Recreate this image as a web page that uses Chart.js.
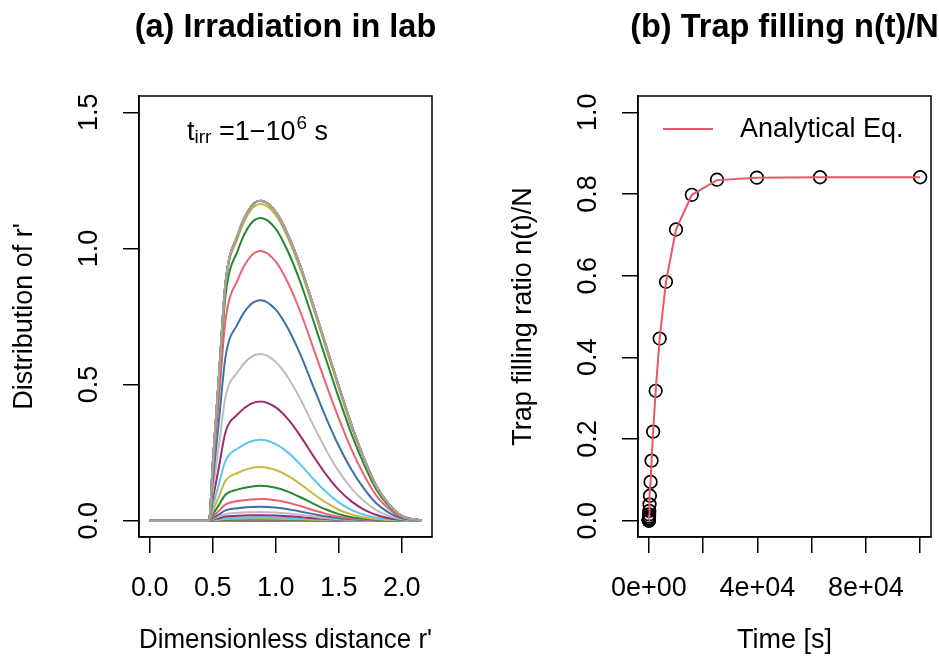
<!DOCTYPE html>
<html>
<head>
<meta charset="utf-8">
<script src="https://cdn.jsdelivr.net/npm/chart.js@4.4.1/dist/chart.umd.min.js"></script>
<style>
  html, body { margin: 0; padding: 0; background: #fff; overflow: hidden; }
  #wrap { position: relative; width: 939px; height: 671px; overflow: hidden; background: #fff; }
  canvas { position: absolute; top: 0; }
  #leftCanvas { left: 0; }
  #rightCanvas { left: 499px; }
</style>
</head>
<body>
<div id="wrap">
  <canvas id="leftCanvas" width="571" height="671"></canvas>
  <canvas id="rightCanvas" width="571" height="671"></canvas>
</div>
<script>
// ---- (a) distribution of r' for irradiation times 1 .. 1e6 s (log steps of 0.2)
const rGrid = [0, 0.47, 0.5, 0.55, 0.6, 0.7, 0.8, 0.88, 1.0, 1.1, 1.2, 1.3, 1.4, 1.5, 1.6, 1.7, 1.8, 1.9, 2.0, 2.16];

const c00 = [0, 0, 0, 0.0001, 0.0001, 0.0002, 0.0002, 0.0002, 0.0002, 0.0002, 0.0001, 0.0001, 0.0001, 0, 0, 0, 0, 0, 0, 0];
const c01 = [0, 0, 0, 0.0001, 0.0002, 0.0003, 0.0003, 0.0003, 0.0003, 0.0003, 0.0002, 0.0001, 0.0001, 0, 0, 0, 0, 0, 0, 0];
const c02 = [0, 0, 0.0001, 0.0002, 0.0004, 0.0004, 0.0005, 0.0005, 0.0005, 0.0004, 0.0003, 0.0002, 0.0001, 0.0001, 0, 0, 0, 0, 0, 0];
const c03 = [0, 0, 0.0001, 0.0004, 0.0006, 0.0007, 0.0008, 0.0008, 0.0008, 0.0007, 0.0005, 0.0004, 0.0002, 0.0001, 0, 0, 0, 0, 0, 0];
const c04 = [0, 0, 0.0002, 0.0006, 0.0009, 0.0011, 0.0012, 0.0012, 0.0011, 0.001, 0.0008, 0.0006, 0.0003, 0.0002, 0.0001, 0, 0, 0, 0, 0];
const c05 = [0, 0, 0.0003, 0.0009, 0.0014, 0.0017, 0.0019, 0.0019, 0.0018, 0.0016, 0.0012, 0.0009, 0.0006, 0.0003, 0.0002, 0, 0, 0, 0, 0];
const c06 = [0, 0, 0.0006, 0.0014, 0.0023, 0.0028, 0.003, 0.0031, 0.0029, 0.0025, 0.002, 0.0014, 0.0009, 0.0005, 0.0002, 0.0001, 0, 0, 0, 0];
const c07 = [0, 0, 0.0009, 0.0023, 0.0036, 0.0044, 0.0048, 0.0049, 0.0046, 0.004, 0.0032, 0.0023, 0.0014, 0.0008, 0.0004, 0.0002, 0, 0, 0, 0];
const c08 = [0, 0, 0.0014, 0.0036, 0.0058, 0.007, 0.0076, 0.0078, 0.0073, 0.0064, 0.0051, 0.0036, 0.0023, 0.0012, 0.0006, 0.0003, 0, 0, 0, 0];
const c09 = [0, 0, 0.002, 0.006, 0.009, 0.011, 0.012, 0.0125, 0.012, 0.010, 0.008, 0.006, 0.004, 0.002, 0.001, 0, 0, 0, 0, 0];
const c10 = [0, 0, 0.004, 0.009, 0.015, 0.018, 0.0196, 0.020, 0.019, 0.016, 0.013, 0.009, 0.006, 0.003, 0.002, 0.001, 0, 0, 0, 0];
const c11 = [0, 0, 0.006, 0.015, 0.024, 0.029, 0.031, 0.032, 0.030, 0.026, 0.021, 0.015, 0.009, 0.005, 0.003, 0.001, 0, 0, 0, 0];
const c12 = [0, 0, 0.009, 0.023, 0.038, 0.046, 0.050, 0.051, 0.048, 0.042, 0.033, 0.024, 0.015, 0.009, 0.005, 0.002, 0.001, 0, 0, 0];
const c13 = [0, 0, 0.014, 0.037, 0.059, 0.072, 0.078, 0.080, 0.075, 0.066, 0.053, 0.038, 0.025, 0.014, 0.008, 0.004, 0.002, 0.001, 0, 0];
const c14 = [0, 0, 0.023, 0.059, 0.095, 0.115, 0.125, 0.128, 0.121, 0.106, 0.085, 0.062, 0.041, 0.024, 0.013, 0.007, 0.003, 0.001, 0, 0];
const c15 = [0, 0, 0.035, 0.091, 0.146, 0.176, 0.193, 0.197, 0.186, 0.164, 0.133, 0.098, 0.066, 0.040, 0.023, 0.012, 0.006, 0.002, 0.001, 0];
const c16 = [0, 0, 0.053, 0.137, 0.220, 0.266, 0.291, 0.297, 0.281, 0.249, 0.204, 0.152, 0.105, 0.067, 0.040, 0.022, 0.011, 0.005, 0.001, 0];
const c17 = [0, 0, 0.079, 0.201, 0.324, 0.392, 0.429, 0.438, 0.416, 0.371, 0.308, 0.236, 0.169, 0.113, 0.071, 0.041, 0.021, 0.009, 0.003, 0];
const c18 = [0, 0, 0.110, 0.282, 0.453, 0.548, 0.600, 0.612, 0.583, 0.524, 0.442, 0.348, 0.259, 0.181, 0.119, 0.072, 0.038, 0.017, 0.005, 0];
const c19 = [0, 0, 0.146, 0.373, 0.599, 0.725, 0.794, 0.810, 0.775, 0.703, 0.605, 0.490, 0.377, 0.275, 0.188, 0.118, 0.063, 0.029, 0.009, 0];
const c20 = [0, 0, 0.178, 0.456, 0.733, 0.887, 0.971, 0.991, 0.952, 0.871, 0.761, 0.631, 0.500, 0.376, 0.263, 0.168, 0.091, 0.042, 0.013, 0];
const c21 = [0, 0, 0.200, 0.512, 0.823, 0.995, 1.090, 1.112, 1.072, 0.985, 0.870, 0.732, 0.591, 0.451, 0.320, 0.207, 0.113, 0.053, 0.016, 0];
const c22 = [0, 0, 0.209, 0.535, 0.861, 1.041, 1.140, 1.163, 1.122, 1.034, 0.917, 0.777, 0.631, 0.485, 0.346, 0.225, 0.123, 0.058, 0.017, 0];
// saturated curves (t >= ~4e4 s) all sit on top of each other
const cSat = [0, 0, 0.212, 0.540, 0.870, 1.052, 1.152, 1.175, 1.134, 1.046, 0.928, 0.787, 0.640, 0.494, 0.353, 0.229, 0.126, 0.059, 0.018, 0];

const curveList = [c00, c01, c02, c03, c04, c05, c06, c07, c08, c09, c10, c11, c12, c13, c14, c15,
  c16, c17, c18, c19, c20, c21, c22, cSat, cSat, cSat, cSat, cSat, cSat, cSat, cSat];

const GREEN = '#24882E', YELLOW = '#CDB73C', CYAN = '#5CC7EE', MAGENTA = '#A3286F',
  GRAY = '#BDBDBD', BLUE = '#3C6FAA', PINK = '#EE6170';
const curveColors = [GREEN, YELLOW, CYAN, MAGENTA, GRAY, BLUE, PINK,
  GREEN, YELLOW, CYAN, MAGENTA, GRAY, BLUE, PINK,
  GREEN, YELLOW, CYAN, MAGENTA, GRAY, BLUE, PINK,
  GREEN, YELLOW, CYAN, MAGENTA, GRAY, BLUE, PINK,
  GREEN, YELLOW, '#A99FA9'];

const rTickValues = [0, 0.5, 1.0, 1.5, 2.0];
const rTickLabels = ['0.0', '0.5', '1.0', '1.5', '2.0'];
const distTickValues = [0, 0.5, 1.0, 1.5];
const distTickLabels = ['0.0', '0.5', '1.0', '1.5'];

// ---- (b) trap filling ratio vs time
const timeS = [1, 1.585, 2.512, 3.981, 6.31, 10, 15.85, 25.12, 39.81, 63.1, 100, 158.5, 251.2, 398.1,
  631, 1000, 1585, 2512, 3981, 6310, 10000, 15849, 25119, 39811, 63096, 100000];
const simFill = [0.0002, 0.0003, 0.0004, 0.0006, 0.001, 0.0016, 0.0025, 0.0039, 0.0062, 0.0098, 0.0155,
  0.024, 0.040, 0.061, 0.095, 0.147, 0.218, 0.318, 0.446, 0.585, 0.713, 0.798, 0.835, 0.840, 0.841, 0.841];
const analyticFill = [0.0002, 0.0003, 0.0004, 0.0006, 0.001, 0.0016, 0.0025, 0.0039, 0.0062, 0.0098, 0.0155,
  0.024, 0.039, 0.061, 0.095, 0.147, 0.218, 0.318, 0.446, 0.585, 0.713, 0.798, 0.834, 0.840, 0.841, 0.841];

const timeTickValues = [0, 20000, 40000, 60000, 80000, 100000];
const timeTickLabels = ['0e+00', '', '4e+04', '', '8e+04', ''];
const fillTickValues = [0, 0.2, 0.4, 0.6, 0.8, 1.0];
const fillTickLabels = ['0.0', '0.2', '0.4', '0.6', '0.8', '1.0'];

Chart.defaults.font.family = '"Liberation Sans", Arial, Helvetica, sans-serif';
Chart.defaults.color = '#000';

const AXIS_FONT = { size: 27 };

// box around the plot region, like R's box()
const frameBox = {
  id: 'frameBox',
  afterDatasetsDraw(chart) {
    const { ctx, chartArea: a } = chart;
    ctx.save();
    ctx.strokeStyle = '#000';
    ctx.lineWidth = 1.5;
    ctx.strokeRect(a.left, a.top, a.right - a.left, a.bottom - a.top);
    ctx.restore();
  }
};

function axisPair(opts) {
  const gridOpts = { drawOnChartArea: false, color: '#000', lineWidth: 1.5, tickLength: 16 };
  return {
    x: {
      type: 'linear', min: opts.xMin, max: opts.xMax,
      afterFit: (s) => { s.height = 134; },
      afterBuildTicks: (s) => { s.ticks = opts.xTicks.map(v => ({ value: v })); },
      grid: gridOpts,
      border: { display: true, color: '#000', width: 1.5 },
      ticks: {
        autoSkip: false, minRotation: 0, maxRotation: 0, padding: 19, font: AXIS_FONT,
        callback: (v, i) => opts.xLabels[i]
      },
      title: { display: true, text: opts.xTitle, font: AXIS_FONT, padding: { top: 0, bottom: 14 } }
    },
    y: {
      type: 'linear', min: opts.yMin, max: opts.yMax,
      afterFit: (s) => { s.width = 139; },
      afterBuildTicks: (s) => { s.ticks = opts.yTicks.map(v => ({ value: v })); },
      grid: gridOpts,
      border: { display: true, color: '#000', width: 1.5 },
      ticks: {
        autoSkip: false, minRotation: 90, maxRotation: 90, crossAlign: 'center', padding: 15, font: AXIS_FONT,
        callback: (v, i) => opts.yLabels[i]
      },
      title: { display: true, text: opts.yTitle, font: AXIS_FONT, padding: { top: 8, bottom: 0 } }
    },
    // empty right margin so the title centres over the plot box
    y2: {
      type: 'linear', position: 'right', display: true,
      grid: { display: false }, border: { display: false }, ticks: { display: false },
      afterFit: (s) => { s.width = 139; }
    }
  };
}

function titleOpts(text) {
  return {
    display: true, text: text, fullSize: true,
    font: { size: 32.5, weight: 'bold' },
    padding: { top: 9, bottom: 48 }
  };
}

// t_irr = 1-10^6 s label inside panel (a)
const irrLabel = {
  id: 'irrLabel',
  afterDraw(chart) {
    const ctx = chart.ctx;
    const a = chart.chartArea;
    const big = '27px "Liberation Sans", Arial, sans-serif';
    const small = '19px "Liberation Sans", Arial, sans-serif';
    let x = a.left + 48;
    const y = a.top + 44;
    ctx.save();
    ctx.fillStyle = '#000';
    ctx.textBaseline = 'alphabetic';
    ctx.font = big;
    ctx.fillText('t', x, y);
    x += ctx.measureText('t').width;
    ctx.font = small;
    ctx.fillText('irr', x, y + 3);
    x += ctx.measureText('irr').width;
    ctx.font = big;
    ctx.fillText(' =1\u221210', x, y);
    x += ctx.measureText(' =1\u221210').width + 1;
    ctx.font = small;
    ctx.fillText('6', x, y - 11);
    x += ctx.measureText('6').width;
    ctx.font = big;
    ctx.fillText(' s', x, y);
    ctx.restore();
  }
};

// legend without frame, top-left inside panel (b)
const lineLegend = {
  id: 'lineLegend',
  afterDraw(chart) {
    const ctx = chart.ctx;
    const a = chart.chartArea;
    const ds = chart.data.datasets[0];
    ctx.save();
    ctx.strokeStyle = ds.borderColor;
    ctx.lineWidth = 2;
    ctx.beginPath();
    ctx.moveTo(a.left + 25, a.top + 33);
    ctx.lineTo(a.left + 75, a.top + 33);
    ctx.stroke();
    ctx.fillStyle = '#000';
    ctx.font = '27px "Liberation Sans", Arial, sans-serif';
    ctx.textBaseline = 'middle';
    ctx.fillText(ds.label, a.left + 102, a.top + 34);
    ctx.restore();
  }
};

const leftDatasets = curveList.map((vals, i) => ({
  label: 't' + i,
  data: vals.map((v, k) => ({ x: rGrid[k], y: v })),
  borderColor: curveColors[i],
  borderWidth: 2,
  pointRadius: 0,
  fill: false,
  cubicInterpolationMode: 'monotone'
})).reverse(); // first dataset is painted last

new Chart(document.getElementById('leftCanvas'), {
  type: 'line',
  data: { datasets: leftDatasets },
  options: {
    responsive: false,
    animation: false,
    events: [],
    layout: { padding: 0 },
    plugins: {
      legend: { display: false },
      tooltip: { enabled: false },
      title: titleOpts('(a) Irradiation in lab')
    },
    scales: axisPair({
      xMin: -0.086, xMax: 2.24, xTicks: rTickValues, xLabels: rTickLabels, xTitle: "Dimensionless distance r'",
      yMin: -0.06, yMax: 1.56, yTicks: distTickValues, yLabels: distTickLabels, yTitle: "Distribution of r'"
    })
  },
  plugins: [frameBox, irrLabel]
});

new Chart(document.getElementById('rightCanvas'), {
  type: 'scatter',
  data: {
    datasets: [
      {
        label: 'Analytical Eq.',
        data: timeS.map((t, i) => ({ x: t, y: analyticFill[i] })),
        showLine: true,
        borderColor: '#E25A6C',
        borderWidth: 2,
        pointRadius: 0,
        fill: false
      },
      {
        label: 'Simulation',
        data: timeS.map((t, i) => ({ x: t, y: simFill[i] })),
        showLine: false,
        pointRadius: 6.3,
        pointBorderWidth: 1.7,
        pointBorderColor: '#000',
        pointBackgroundColor: 'rgba(0,0,0,0)',
        borderColor: '#000'
      }
    ]
  },
  options: {
    responsive: false,
    animation: false,
    events: [],
    layout: { padding: 0 },
    plugins: {
      legend: { display: false },
      tooltip: { enabled: false },
      title: titleOpts('(b) Trap filling n(t)/N')
    },
    scales: axisPair({
      xMin: -4000, xMax: 104000, xTicks: timeTickValues, xLabels: timeTickLabels, xTitle: 'Time [s]',
      yMin: -0.04, yMax: 1.04, yTicks: fillTickValues, yLabels: fillTickLabels, yTitle: 'Trap filling ratio n(t)/N'
    })
  },
  plugins: [frameBox, lineLegend]
});
</script>
</body>
</html>
